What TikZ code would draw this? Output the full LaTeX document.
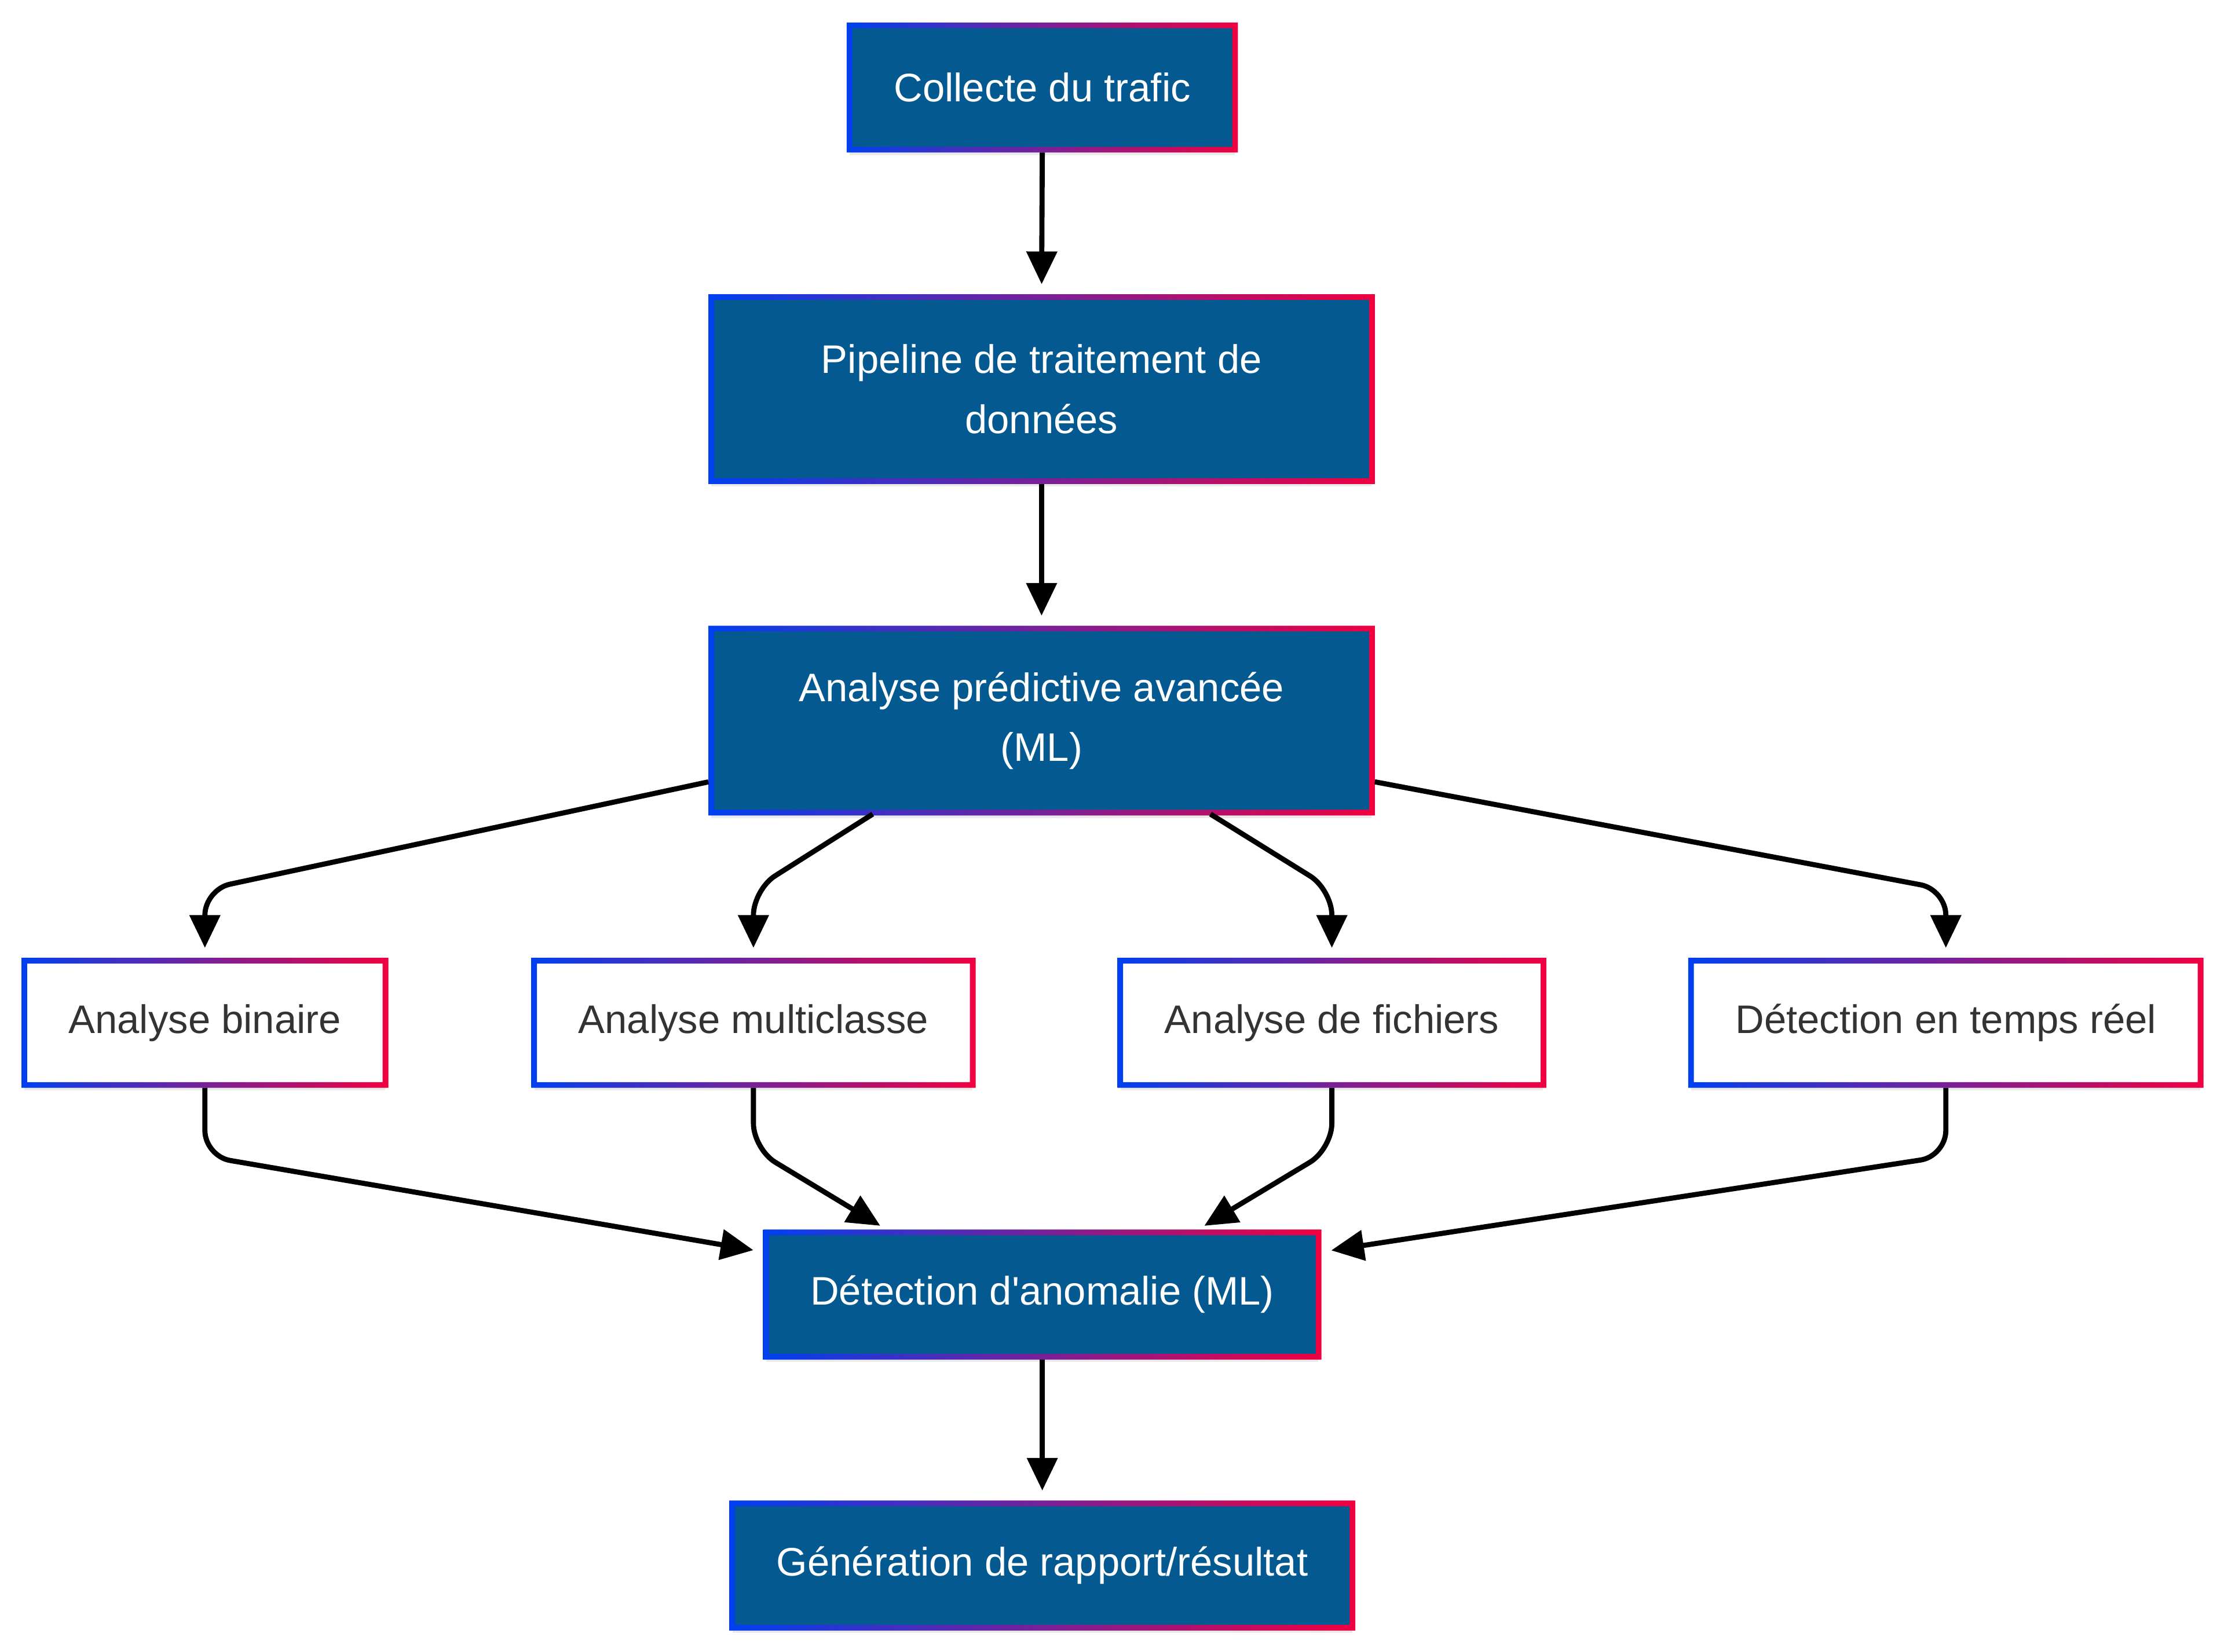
\documentclass[tikz,border=0pt]{standalone}
\usepackage{fontspec}
\setmainfont{Liberation Sans}
\usetikzlibrary{arrows.meta,shadows}

\definecolor{boxblue}{RGB}{4,89,145}
\definecolor{edgeblue}{RGB}{0,64,240}
\definecolor{edgered}{RGB}{240,0,64}
\definecolor{textgray}{RGB}{51,51,51}

\begin{document}
\begin{tikzpicture}[x=1pt,y=-1pt,
  every node/.style={font=\fontsize{28}{42}\selectfont, inner sep=0pt, align=center},
  box/.style={minimum height=87pt, inner xsep=31pt,
    drop shadow={shadow xshift=0pt, shadow yshift=-4pt, opacity=0.08, fill=black}},
  darkbox/.style={box, fill=boxblue, text=white},
  lightbox/.style={box, fill=white, text=textgray},
  widebox/.style={darkbox, minimum width=464pt, minimum height=129pt},
  flow/.style={-{Triangle[length=23pt,width=21pt]}, line width=3.6pt,
    rounded corners=18pt, shorten <=2pt, shorten >=9pt}]
\useasboundingbox (0,0) rectangle (1563,1161.26);

\node[darkbox] (collecte) at (732.5,61.5) {Collecte du trafic};
\node[widebox] (pipeline) at (732,273.5) {Pipeline de traitement de\\données};
\node[widebox] (predictive) at (732,506.5) {Analyse prédictive avancée\\(ML)};
\node[lightbox] (binaire) at (144,719) {Analyse binaire};
\node[lightbox] (multiclasse) at (529.5,719) {Analyse multiclasse};
\node[lightbox] (fichiers) at (936,719) {Analyse de fichiers};
\node[lightbox] (tempsreel) at (1367.5,719) {Détection en temps réel};
\node[darkbox] (anomalie) at (732.5,910) {Détection d\textquotesingle anomalie (ML)};
\node[darkbox] (rapport) at (732.5,1100.5) {Génération de rapport/résultat};

\foreach \n in {collecte,pipeline,predictive,binaire,multiclasse,fichiers,tempsreel,anomalie,rapport}
  \shade[left color=edgeblue, right color=edgered, even odd rule]
    ([shift={(-2pt,2pt)}]\n.north west) rectangle ([shift={(2pt,-2pt)}]\n.south east)
    ([shift={(2pt,-2pt)}]\n.north west) rectangle ([shift={(-2pt,2pt)}]\n.south east);

\draw[flow] (collecte.south) -- (pipeline.north);
\draw[flow] (pipeline.south) -- (predictive.north);

\draw[flow] ([yshift=22pt]predictive.south west) -- ([yshift=50pt]binaire.north) -- (binaire.north);
\draw[flow] ([xshift=-117pt]predictive.south) -- ([yshift=50pt]multiclasse.north) -- (multiclasse.north);
\draw[flow] ([xshift=117pt]predictive.south) -- ([yshift=50pt]fichiers.north) -- (fichiers.north);
\draw[flow] ([yshift=22pt]predictive.south east) -- ([yshift=50pt]tempsreel.north) -- (tempsreel.north);

\draw[flow] (binaire.south) -- ([yshift=-50pt]binaire.south) -- ([yshift=-14pt]anomalie.north west);
\draw[flow] (multiclasse.south) -- ([yshift=-45pt]multiclasse.south) -- ([xshift=88pt]anomalie.north west);
\draw[flow] (fichiers.south) -- ([yshift=-45pt]fichiers.south) -- ([xshift=-88pt]anomalie.north east);
\draw[flow] (tempsreel.south) -- ([yshift=-50pt]tempsreel.south) -- ([yshift=-14pt]anomalie.north east);

\draw[flow] (anomalie.south) -- (rapport.north);
\end{tikzpicture}
\end{document}
